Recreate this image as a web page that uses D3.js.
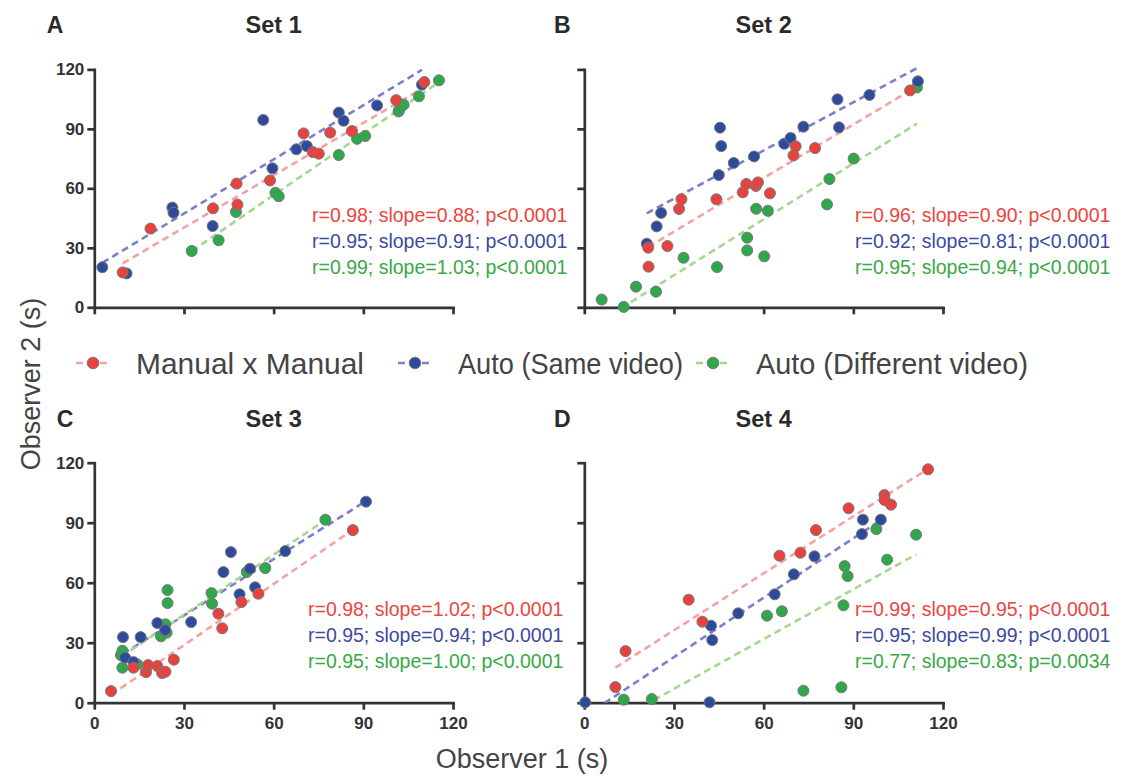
<!DOCTYPE html>
<html>
<head>
<meta charset="utf-8">
<script src="https://cdn.jsdelivr.net/npm/d3@7"></script>
<style>
  body { margin: 0; background: #fff; }
  svg { display: block; font-family: "Liberation Sans", Arial, sans-serif; }
</style>
</head>
<body>
<svg id="chart" width="1124" height="776"></svg>
<script>
// ---- data -------------------------------------------------------------
const seriesNames = ["Manual x Manual", "Auto (Same video)", "Auto (Different video)"];
const panelLetters = ["A", "B", "C", "D"];
const panelTitles = ["Set 1", "Set 2", "Set 3", "Set 4"];
const axisTicks = [0, 30, 60, 90, 120];

// [observer 1, observer 2] durations in seconds
const set1Manual = [[9.5,17.6],[18.8,39.7],[39.7,49.9],[47.6,62.4],[47.9,51.8],[58.8,64],[70,87.7],[73.1,78.3],[75.1,77.5],[78.9,88.1],[86.2,88.9],[101,104.5],[110.4,113.6]];
const set1Same   = [[2.7,20.2],[10.8,17.1],[26.1,50.3],[26.5,47.7],[39.6,41],[56.5,94.5],[59.6,70.1],[67.6,79.7],[71.1,81.3],[81.8,98.2],[83.4,94.1],[94.6,101.8],[109.6,112.3]];
const set1Diff   = [[32.6,28.4],[41.6,33.8],[47.4,48.1],[60.6,57.8],[61.7,56],[81.8,76.8],[87.9,85],[90.6,86.4],[101.8,98.8],[102.1,99.8],[103.5,102.2],[108.6,106.4],[115.3,114.5]];

const set2Manual = [[21.4,30.1],[21.5,20.5],[27.8,30.9],[31.7,49.6],[32.5,54.5],[44.2,54.5],[53,58],[54.2,62.2],[57.4,61.2],[58.1,63],[62.1,57.5],[70,76.6],[70.7,81.2],[77.2,80.3],[109,109.4]];
const set2Same   = [[20.9,32.1],[24.2,40.8],[25.7,47.6],[45,66.7],[45.4,90.6],[45.8,81.3],[50,72.8],[56.8,76.1],[66.9,82.5],[69,85.4],[73.3,91.1],[84.7,104.9],[85.2,90.8],[95.4,107.1],[111.6,114]];
const set2Diff   = [[5.8,3.9],[13.2,0.2],[17.3,10.4],[24,7.9],[33.2,25],[44.4,20.3],[54.5,35.1],[54.5,28.7],[57.5,49.7],[60.2,25.7],[61.4,48.7],[81.2,51.9],[82,64.7],[90.1,75],[111.3,110.9]];

const set3Manual = [[5.6,5.8],[13.1,17.5],[17.3,15.3],[18,18.8],[21.1,18.3],[22.7,14.8],[23.8,15.5],[26.6,21.5],[41.5,44.5],[42.8,37.2],[49.2,50.3],[54.9,54.5],[86.5,86.3]];
const set3Same   = [[9.6,32.8],[10.3,22.5],[13.1,20.3],[15.5,32.8],[21.1,39.8],[23.7,36.3],[32.4,40.3],[43.2,65.3],[45.7,75.3],[48.6,54.2],[52.1,67],[53.8,57.7],[63.9,75.8],[90.9,100.5]];
const set3Diff   = [[8.9,23.8],[9.4,26],[9.4,17.5],[14.4,19.2],[22.3,33.2],[23.8,39.2],[24.2,35],[24.5,56.3],[24.5,49.8],[39.2,54.8],[39.4,49.5],[51,65.3],[57.2,67.3],[77.3,91.5]];

const set4Manual = [[10.4,7.8],[13.8,25.8],[34.9,51.5],[39.5,40.5],[65.3,73.5],[72.3,75],[77.5,86.3],[88.4,97.2],[100.4,103.8],[100.5,101.3],[102.6,99],[115,116.7]];
const set4Same   = [[0.3,0.2],[41.9,0.2],[42.4,38.5],[42.8,31.3],[51.5,44.7],[63.7,54.2],[70.1,64.2],[77,73.2],[92.9,84.3],[93.2,91.5],[99.2,91.5]];
const set4Diff   = [[13.2,1.5],[22.6,1.8],[61.1,43.5],[66.1,45.7],[73.3,6],[86,7.7],[86.7,48.7],[87.1,68.3],[88.1,63.3],[97.7,86.8],[101.3,71.5],[111,84]];

// fit statistics per set, in series order (manual, same video, different video)
const set1R = [0.98, 0.95, 0.99], set1Slope = [0.88, 0.91, 1.03], set1Intercept = [13.8, 20.0, -5.2], set1P = ["p<0.0001", "p<0.0001", "p<0.0001"];
const set2R = [0.96, 0.92, 0.95], set2Slope = [0.90, 0.81, 0.94], set2Intercept = [11.2, 30.5, -12.0], set2P = ["p<0.0001", "p<0.0001", "p<0.0001"];
const set3R = [0.98, 0.95, 0.95], set3Slope = [1.02, 0.94, 1.00], set3Intercept = [-1.8, 15.4, 14.0], set3P = ["p<0.0001", "p<0.0001", "p<0.0001"];
const set4R = [0.99, 0.95, 0.77], set4Slope = [0.95, 0.99, 0.83], set4Intercept = [7.7, -6.9, -18.0], set4P = ["p<0.0001", "p<0.0001", "p=0.0034"];

// ---- styling ---------------------------------------------------------
const dotFill   = ["#e8423f", "#2e4a9c", "#2fa84c"];
const lineColor = ["#f4a3a3", "#7a7fcb", "#a4d88f"];
const textColor = ["#ea4640", "#3c4b9e", "#3aa846"];
const axisColor = "#333";

const panels = [
  { data: [set1Manual, set1Same, set1Diff], r: set1R, slope: set1Slope, b: set1Intercept, p: set1P },
  { data: [set2Manual, set2Same, set2Diff], r: set2R, slope: set2Slope, b: set2Intercept, p: set2P },
  { data: [set3Manual, set3Same, set3Diff], r: set3R, slope: set3Slope, b: set3Intercept, p: set3P },
  { data: [set4Manual, set4Same, set4Diff], r: set4R, slope: set4Slope, b: set4Intercept, p: set4P }
];

// panel geometry
const colRange = [[94.3, 453], [584.3, 943]];
const rowRange = [[307.3, 69.4], [702.7, 462.7]];
const letterX = [46.7, 554, 56.7, 554];
const statsX = [312, 855, 308, 855];

const svg = d3.select("#chart");
const defs = svg.append("defs");

panels.forEach((panel, k) => {
  const col = k % 2, row = Math.floor(k / 2);
  const x = d3.scaleLinear().domain([0, 120]).range(colRange[col]);
  const y = d3.scaleLinear().domain([0, 120]).range(rowRange[row]);
  const g = svg.append("g");

  const clipId = "clip" + k;
  defs.append("clipPath").attr("id", clipId).append("rect")
    .attr("x", x(0)).attr("y", y(120) - 10)
    .attr("width", x(120) - x(0)).attr("height", y(0) - y(120) + 10);

  // panel letter and title
  const top = y(120);
  g.append("text").attr("x", letterX[k]).attr("y", top - 36)
    .attr("font-size", 23).attr("font-weight", "bold").attr("fill", "#2b2b2b")
    .text(panelLetters[k]);
  g.append("text").attr("x", (x(0) + x(120)) / 2).attr("y", top - 36)
    .attr("text-anchor", "middle")
    .attr("font-size", 23.5).attr("font-weight", "bold").attr("fill", "#2b2b2b")
    .text(panelTitles[k]);

  // axes
  const showX = row === 1, showY = col === 0;
  const xAxis = d3.axisBottom(x).tickValues(axisTicks).tickSize(7).tickPadding(7).tickSizeOuter(0)
    .tickFormat(showX ? d3.format("d") : "");
  const yAxis = d3.axisLeft(y).tickValues(axisTicks).tickSize(7).tickPadding(3).tickSizeOuter(0)
    .tickFormat(showY ? d3.format("d") : "");
  const gx = g.append("g").attr("transform", `translate(0,${y(0)})`).call(xAxis);
  const gy = g.append("g").attr("transform", `translate(${x(0)},0)`).call(yAxis);
  [gx, gy].forEach(a => {
    a.select(".domain").attr("stroke", axisColor).attr("stroke-width", 2.7).attr("stroke-linecap", "square");
    a.selectAll(".tick line").attr("stroke", axisColor).attr("stroke-width", 2.7);
    a.selectAll(".tick text").attr("fill", "#333").attr("font-size", 17).attr("font-weight", "bold")
      .attr("font-family", "'Liberation Sans', Arial, sans-serif");
  });

  // fitted lines, spanning each series' observed range
  const lines = g.append("g").attr("clip-path", `url(#${clipId})`);
  panel.data.forEach((pts, i) => {
    const ext = d3.extent(pts, d => d[0]);
    const fit = ext.map(v => [v, panel.b[i] + panel.slope[i] * v]);
    lines.append("path")
      .attr("d", d3.line().x(d => x(d[0])).y(d => y(d[1]))(fit))
      .attr("fill", "none").attr("stroke", lineColor[i])
      .attr("stroke-width", 2.6).attr("stroke-dasharray", "7,4.5");
  });

  // points: different video, then same video, then manual on top
  [2, 1, 0].forEach(i => {
    g.append("g").selectAll("circle").data(panel.data[i]).join("circle")
      .attr("cx", d => x(d[0])).attr("cy", d => y(d[1])).attr("r", 5.5)
      .attr("fill", dotFill[i]).attr("stroke", "#777").attr("stroke-width", 1);
  });

  // statistics
  panel.r.forEach((rv, i) => {
    g.append("text")
      .attr("x", statsX[k]).attr("y", y(120) + 153 + i * 26)
      .attr("font-size", 19.5).attr("fill", textColor[i])
      .text(`r=${rv.toFixed(2)}; slope=${panel.slope[i].toFixed(2)}; ${panel.p[i]}`);
  });
});

// legend
const legendDotX = [93, 415, 713];
const legendTextWidth = [228, 225, 272];
const legendY = 363;
const legend = svg.append("g");
seriesNames.forEach((name, i) => {
  const cx = legendDotX[i];
  legend.append("line")
    .attr("x1", cx - 17).attr("x2", cx + 17).attr("y1", legendY).attr("y2", legendY)
    .attr("stroke", lineColor[i]).attr("stroke-width", 2.6).attr("stroke-dasharray", "7,5");
  legend.append("circle").attr("cx", cx).attr("cy", legendY).attr("r", 5.8)
    .attr("fill", dotFill[i]).attr("stroke", "#777").attr("stroke-width", 1);
  legend.append("text").attr("x", cx + 43).attr("y", legendY + 11)
    .attr("font-size", 29).attr("fill", "#444")
    .attr("textLength", legendTextWidth[i]).attr("lengthAdjust", "spacingAndGlyphs")
    .text(name);
});

// axis titles
svg.append("text").attr("x", 522).attr("y", 768).attr("text-anchor", "middle")
  .attr("font-size", 27).attr("fill", "#444").text("Observer 1 (s)");
svg.append("text").attr("transform", "translate(40,384) rotate(-90)").attr("text-anchor", "middle")
  .attr("font-size", 27).attr("fill", "#444").text("Observer 2 (s)");
</script>
</body>
</html>
